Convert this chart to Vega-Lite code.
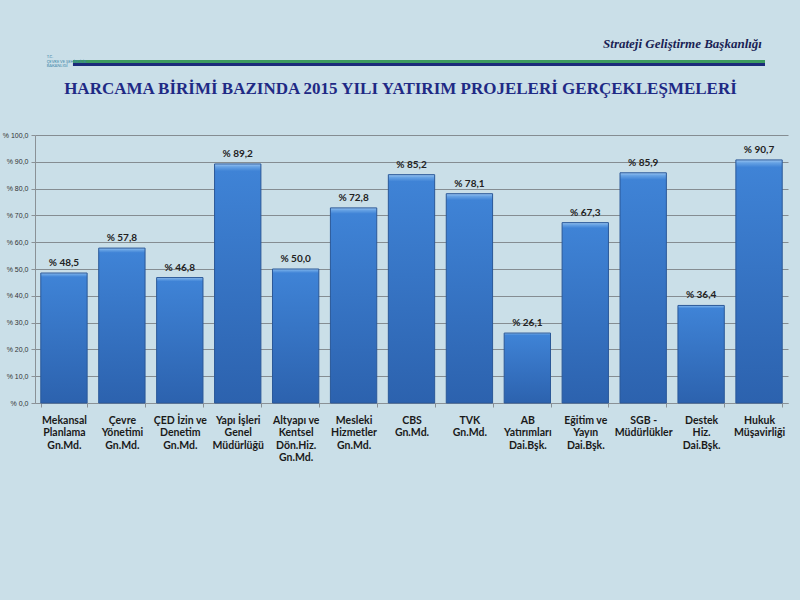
{
  "$schema": "https://vega.github.io/schema/vega-lite/v6.json",
  "background": "#cadfe8",
  "padding": {"top": 38, "left": 2, "right": 14, "bottom": 150},
  "config": {
    "view": {"stroke": null},
    "font": "Lato"
  },
  "spacing": 12,
  "vconcat": [
    {
      "width": 730,
      "height": 6,
      "title": {
        "text": "Strateji Geliştirme Başkanlığı",
        "anchor": "end",
        "font": "Liberation Serif",
        "fontStyle": "italic",
        "fontWeight": "bold",
        "fontSize": 13,
        "color": "#1a1f55",
        "offset": 4,
        "dx": -3
      },
      "data": {"values": [{"bant": "yeşil"}, {"bant": "lacivert"}]},
      "layer": [
        {
          "mark": {"type": "rect"},
          "encoding": {
            "x": {"datum": 5.2, "type": "quantitative", "scale": {"domain": [0, 100]}, "axis": null},
            "x2": {"datum": 100},
            "y": {"field": "bant", "type": "nominal", "sort": ["yeşil", "lacivert"], "scale": {"paddingInner": 0, "paddingOuter": 0}, "axis": null},
            "color": {"field": "bant", "type": "nominal", "scale": {"domain": ["yeşil", "lacivert"], "range": ["#3c9a5f", "#1b2a7a"]}, "legend": null}
          }
        },
        {
          "data": {"values": [{"logo": "T.C."}]},
          "mark": {"type": "text", "fontSize": 4, "color": "#3c86a8", "align": "left", "baseline": "middle", "lineHeight": 4.5, "dy": -6},
          "encoding": {
            "x": {"datum": 1.6, "type": "quantitative"},
            "text": {"value": ["T.C.", "ÇEVRE VE ŞEHİRCİLİK", "BAKANLIĞI"]}
          }
        }
      ]
    },
    {
      "width": 753,
      "height": 268,
      "title": {
        "text": "HARCAMA  BİRİMİ  BAZINDA  2015 YILI YATIRIM  PROJELERİ  GERÇEKLEŞMELERİ",
        "anchor": "middle",
        "font": "Liberation Serif",
        "fontWeight": "bold",
        "fontSize": 17,
        "color": "#1f2a85",
        "offset": 33,
        "dx": -11
      },
      "data": {
        "values": [
          {"birim": "Mekansal|Planlama|Gn.Md.", "oran": 48.5},
          {"birim": "Çevre|Yönetimi|Gn.Md.", "oran": 57.8},
          {"birim": "ÇED İzin ve|Denetim|Gn.Md.", "oran": 46.8},
          {"birim": "Yapı İşleri|Genel|Müdürlüğü", "oran": 89.2},
          {"birim": "Altyapı ve|Kentsel|Dön.Hiz.|Gn.Md.", "oran": 50.0},
          {"birim": "Mesleki|Hizmetler|Gn.Md.", "oran": 72.8},
          {"birim": "CBS|Gn.Md.", "oran": 85.2},
          {"birim": "TVK|Gn.Md.", "oran": 78.1},
          {"birim": "AB|Yatırımları|Dai.Bşk.", "oran": 26.1},
          {"birim": "Eğitim ve|Yayın|Dai.Bşk.", "oran": 67.3},
          {"birim": "SGB -|Müdürlükler", "oran": 85.9},
          {"birim": "Destek|Hiz.|Dai.Bşk.", "oran": 36.4},
          {"birim": "Hukuk|Müşavirliği", "oran": 90.7}
        ]
      },
      "transform": [
        {"calculate": "'% ' + replace(format(datum.oran, '.1f'), '.', ',')", "as": "etiket"}
      ],
      "encoding": {
        "x": {
          "field": "birim",
          "type": "nominal",
          "sort": null,
          "scale": {"paddingInner": 0.2, "paddingOuter": 0.1},
          "axis": {
            "title": null,
            "labelAngle": 0,
            "labelExpr": "split(datum.label, '|')",
            "labelFont": "Lato",
            "labelFontWeight": "bold",
            "labelFontSize": 10.5,
            "labelLineHeight": 12.5,
            "labelColor": "#1a1a1a",
            "labelPadding": 8,
            "labelBaseline": "top",
            "tickBand": "extent",
            "tickColor": "#8a9196",
            "tickSize": 4,
            "domainColor": "#8a9196",
            "labelLimit": 0
          }
        },
        "y": {
          "field": "oran",
          "type": "quantitative",
          "scale": {"domain": [0, 100], "nice": false},
          "axis": {
            "title": null,
            "values": [0, 10, 20, 30, 40, 50, 60, 70, 80, 90, 100],
            "labelExpr": "'% ' + replace(format(datum.value, '.1f'), '.', ',')",
            "labelFontSize": 7,
            "labelFont": "Liberation Sans",
            "labelColor": "#333333",
            "labelPadding": 3,
            "tickColor": "#8a9196",
            "tickSize": 4,
            "domainColor": "#8a9196",
            "gridColor": "#858d92",
            "gridWidth": 1,
            "gridOpacity": 1
          }
        }
      },
      "layer": [
        {
          "mark": {
            "type": "bar",
            "stroke": "#2a5898",
            "strokeWidth": 1,
            "color": {
              "gradient": "linear",
              "x1": 0, "y1": 0, "x2": 0, "y2": 1,
              "stops": [
                {"offset": 0, "color": "#9cc6f2"},
                {"offset": 0.012, "color": "#66a2e4"},
                {"offset": 0.03, "color": "#3f83d6"},
                {"offset": 1, "color": "#2c62ae"}
              ]
            }
          }
        },
        {
          "mark": {"type": "text", "baseline": "bottom", "dy": -5, "fontSize": 10, "fontWeight": "bold", "font": "Lato", "color": "#222222"},
          "encoding": {"text": {"field": "etiket", "type": "nominal"}}
        }
      ]
    }
  ]
}
